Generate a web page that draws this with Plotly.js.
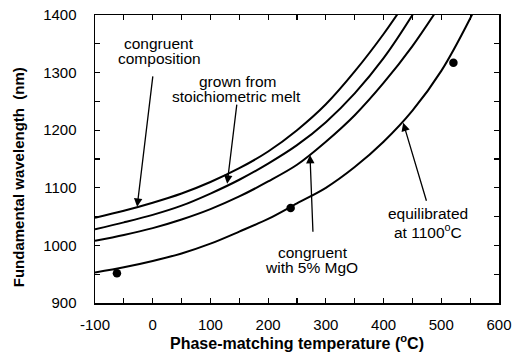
<!DOCTYPE html>
<html>
<head>
<meta charset="utf-8">
<script src="https://cdn.plot.ly/plotly-3.0.1.min.js"></script>
<style>html,body{margin:0;padding:0;background:#fff;}#chart{width:516px;height:354px;}</style>
</head>
<body>
<div id="chart"></div>
<script>
// Phase-matching temperature (°C) sample points for each curve
const tempCongruent = [-100,-50,0,50,100,150,200,250,300,350,400,450];
const lamCongruent  = [1048,1060,1074,1090,1110,1134,1163,1200,1245,1302,1367,1440];

const tempStoich = [-100,-50,0,50,100,150,200,250,300,350,400,450,500];
const lamStoich  = [1028,1040,1053,1069,1090,1114,1142,1174,1214,1264,1325,1400,1485];

const tempMgO = [-100,-50,0,50,100,150,200,250,300,350,400,450,500];
const lamMgO  = [1008,1018,1030,1045,1063,1085,1111,1140,1180,1226,1282,1346,1420];

const tempEquil = [-100,-50,0,50,100,150,200,250,300,350,400,450,500,550,600];
const lamEquil  = [953,962,973,986,1003,1024,1046,1073,1100,1136,1180,1234,1303,1394,1500];

// measured points
const measTemp = [-62,239,521];
const measLam  = [951.5,1065,1317];

const xTickVals = [-100,0,100,200,300,400,500,600];
const yTickVals = [900,1000,1100,1200,1300,1400];

const FONT = "Arial, 'Liberation Sans', Helvetica, sans-serif";
const lineStyle = {color:'#000', width:2, shape:'spline', smoothing:0.9};

const traces = [
  {x:tempCongruent, y:lamCongruent, mode:'lines', line:lineStyle, hoverinfo:'skip'},
  {x:tempStoich, y:lamStoich, mode:'lines', line:lineStyle, hoverinfo:'skip'},
  {x:tempMgO, y:lamMgO, mode:'lines', line:lineStyle, hoverinfo:'skip'},
  {x:tempEquil, y:lamEquil, mode:'lines', line:lineStyle, hoverinfo:'skip'},
  {x:measTemp, y:measLam, mode:'markers', marker:{color:'#000', size:8.5}, cliponaxis:false, hoverinfo:'skip'}
];

function txt(x, y, t){
  return {x:x, y:y, xref:'x', yref:'y', text:t, showarrow:false,
          font:{family:FONT, size:15.5, color:'#000'}, xanchor:'center', yanchor:'middle'};
}
function arr(x0, y0, x1, y1){
  return {x:x1, y:y1, ax:x0, ay:y0, xref:'x', yref:'y', axref:'x', ayref:'y',
          text:'', showarrow:true, arrowhead:2, arrowsize:1.3, arrowwidth:1.3, arrowcolor:'#000'};
}

const annotations = [
  txt(10.9, 1351, 'congruent'),
  txt(10.9, 1325, 'composition'),
  arr(0.5, 1296, -27, 1067),
  txt(148, 1284, 'grown from'),
  txt(146, 1258, 'stoichiometric melt'),
  arr(146, 1247, 129, 1107),
  txt(277.7, 988.5, 'congruent'),
  txt(274.3, 961, 'with 5% MgO'),
  arr(277.7, 1021, 272.5, 1157),
  txt(477, 1056, 'equilibrated'),
  txt(477, 1025, 'at 1100<sup>o</sup>C'),
  arr(475, 1075, 434, 1213),
  {x:-0.19, y:0.4375, xref:'paper', yref:'paper', textangle:-90, showarrow:false,
   text:'<b>Fundamental wavelength  (nm)</b>', font:{family:FONT, size:15, color:'#000'},
   xanchor:'center', yanchor:'middle'}
];

const axisCommon = {
  showgrid:false, zeroline:false, showline:true, linecolor:'#000', linewidth:1.5,
  mirror:'ticks', ticks:'inside', ticklen:5, tickwidth:1.2, tickcolor:'#000',
  tickfont:{family:FONT, size:15, color:'#000'},
  minor:{ticks:'inside', ticklen:5, tickwidth:1.2, tickcolor:'#000', dtick:50},
  fixedrange:true
};

const layout = {
  width:516, height:354,
  margin:{l:95, r:17, t:15, b:51},
  paper_bgcolor:'#fff', plot_bgcolor:'#fff',
  showlegend:false,
  xaxis:Object.assign({}, axisCommon, {
    range:[-100,600], tickvals:xTickVals, ticktext:xTickVals.map(String),
    ticklabelstandoff:7,
    title:{text:'<b>Phase-matching temperature (<sup>o</sup>C)</b>', font:{family:FONT, size:16, color:'#000'}, standoff:4}
  }),
  yaxis:Object.assign({}, axisCommon, {
    range:[900,1400], tickvals:yTickVals, ticktext:yTickVals.map(String),
    ticklabelstandoff:14
  }),
  annotations:annotations
};

Plotly.newPlot('chart', traces, layout, {staticPlot:true, displayModeBar:false});
</script>
</body>
</html>
